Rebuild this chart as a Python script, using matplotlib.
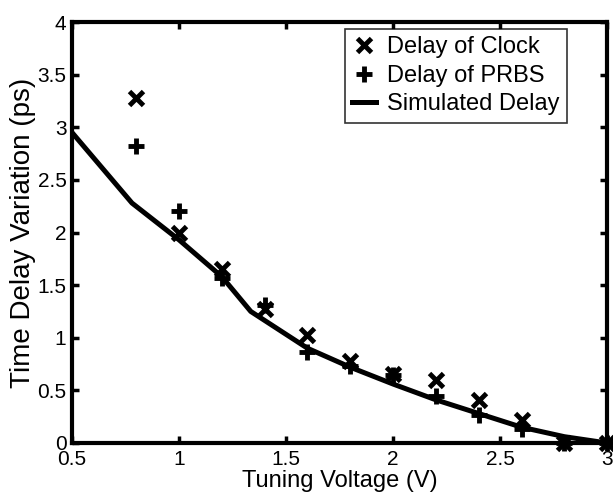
import matplotlib
matplotlib.use('Agg')
import matplotlib.pyplot as plt

plt.rcParams['font.family'] = ['Liberation Sans', 'DejaVu Sans']

# measured delays (ps) vs tuning voltage (V)
volt = [0.8, 1.0, 1.2, 1.4, 1.6, 1.8, 2.0, 2.2, 2.4, 2.6, 2.8, 3.0]
clock_delay = [3.28, 2.0, 1.65, 1.27, 1.03, 0.78, 0.66, 0.60, 0.41, 0.22, 0.0, 0.0]
prbs_delay = [2.82, 2.2, 1.57, 1.31, 0.86, 0.73, 0.65, 0.45, 0.27, 0.13, 0.0, 0.0]

# simulated curve
sim_volt = [0.5, 0.78, 1.0, 1.2, 1.335, 1.6, 1.8, 2.0, 2.2, 2.4, 2.6, 2.8, 3.0]
sim_delay = [2.95, 2.28, 1.93, 1.58, 1.25, 0.9, 0.72, 0.56, 0.41, 0.28, 0.15, 0.06, 0.0]

fig = plt.figure(figsize=(6.13, 5), dpi=100)
ax = fig.add_axes([0.1175, 0.114, 0.873, 0.842])

ax.plot(volt, clock_delay, 'x', color='black', ms=10, mew=3.5, label='Delay of Clock', clip_on=False)
ax.plot(volt, prbs_delay, '+', color='black', ms=11, mew=3.5, label='Delay of PRBS', clip_on=False)
ax.plot(sim_volt, sim_delay, '-', color='black', lw=3.6, label='Simulated Delay')

ax.set_xlim(0.5, 3)
ax.set_ylim(0, 4)
ax.set_xticks([0.5, 1, 1.5, 2, 2.5, 3])
ax.set_xticklabels(['0.5', '1', '1.5', '2', '2.5', '3'])
ax.set_yticks([0, 0.5, 1, 1.5, 2, 2.5, 3, 3.5, 4])
ax.set_yticklabels(['0', '0.5', '1', '1.5', '2', '2.5', '3', '3.5', '4'])
ax.tick_params(direction='in', length=5, width=2.5, labelsize=15, top=True, right=True)
ax.tick_params(axis='x', pad=5)
ax.tick_params(axis='y', pad=4)
for s in ax.spines.values():
    s.set_linewidth(3)

ax.set_xlabel('Tuning Voltage (V)', fontsize=17, labelpad=1)
ax.set_ylabel('Time Delay Variation (ps)', fontsize=20, labelpad=1)

leg = ax.legend(loc='upper right', bbox_to_anchor=(0.925, 0.983), fontsize=17, frameon=True,
                fancybox=False, edgecolor='black', handlelength=1.0, handletextpad=0.5,
                borderpad=0.3, labelspacing=0.28, borderaxespad=0.0)
leg.get_frame().set_linewidth(1.2)

fig.savefig('out.png', dpi=100)
